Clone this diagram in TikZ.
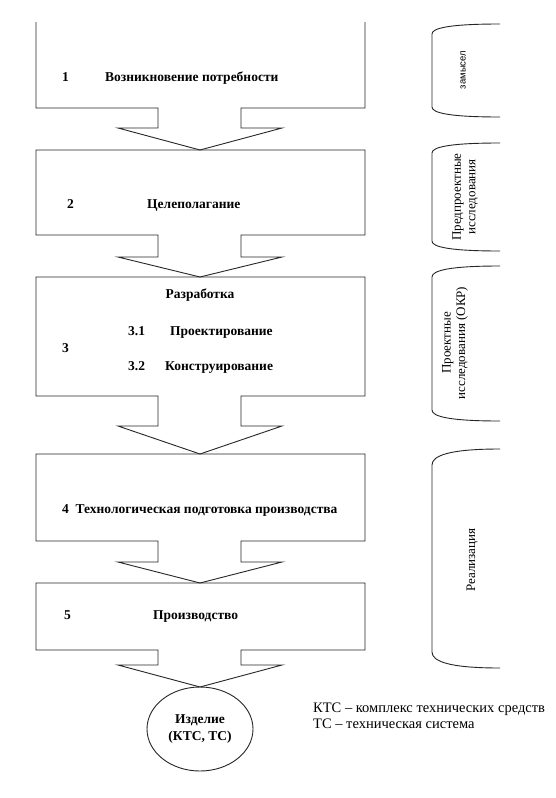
\documentclass[tikz,border=0pt]{standalone}
\usepackage{fontspec}
\setmainfont{Liberation Serif}
\newfontfamily\sansf{Liberation Sans}
\usetikzlibrary{shapes.geometric}
\begin{document}
\begin{tikzpicture}[x=1pt,y=-1pt,
  outline/.style={draw=black!85,line width=0.9pt,line join=miter},
  boxtxt/.style={font=\fontsize{13.5}{15}\selectfont\bfseries,inner sep=0pt,anchor=base west},
  sidetxt/.style={font=\fontsize{13}{14.5}\selectfont,inner sep=0pt,rotate=90,align=center},
  legendtxt/.style={font=\fontsize{14.5}{16}\selectfont,inner sep=0pt,anchor=base west}]
\useasboundingbox[fill=white] (0,0) rectangle (556,798);
% stage outlines with arrows
\newcommand\stagearrow[3]{% bottom, stem bottom, tip
  -- (36,#1) -- (158,#1) -- (158,#2) -- (118,#2) -- (200,#3) -- (282,#2) -- (241,#2) -- (241,#1) -- (365,#1)}
\draw[outline] (36,22) \stagearrow{108}{128}{150} -- (365,22);
\draw[outline] (365,150) -- (36,150) \stagearrow{235}{257}{277} -- cycle;
\draw[outline] (365,277) -- (36,277) \stagearrow{396}{426}{454} -- cycle;
\draw[outline] (365,454) -- (36,454) \stagearrow{541}{562}{583} -- cycle;
\draw[outline] (365,583) -- (36,583) \stagearrow{650}{665}{687} -- cycle;
% texts
\node[boxtxt] (n1) at (62,81) {1};
\node[boxtxt] (t1) at (105,81) {Возникновение потребности};
\node[boxtxt] (n2) at (67,208) {2};
\node[boxtxt] (t2) at (147,208) {Целеполагание};
\node[boxtxt,anchor=base] (t3) at (200,298) {Разработка};
\node[boxtxt] (n31) at (128,335) {3.1};
\node[boxtxt] (t31) at (170,335) {Проектирование};
\node[boxtxt] (n3) at (62,352) {3};
\node[boxtxt] (n32) at (128,370) {3.2};
\node[boxtxt] (t32) at (165,370) {Конструирование};
\node[boxtxt] (t4) at (62,513) {4\ \ Технологическая подготовка производства};
\node[boxtxt] (n5) at (64,619) {5};
\node[boxtxt] (t5) at (153,619) {Производство};
% product
\node[ellipse,outline,minimum width=106pt,minimum height=84pt,inner sep=0pt,align=center,
  font=\fontsize{13.5}{17}\selectfont\bfseries] (prod) at (200,729) {Изделие\\(КТС, ТС)};
\node[legendtxt] (l1) at (313,712) {КТС – комплекс технических средств};
\node[legendtxt] (l2) at (313,728) {ТС – техническая система};
% side brackets
\newcommand\sidebracket[3]{% top, bottom, curve
  \draw[outline] (500,#1) .. controls (450,#1) and (432,#1+#3*0.4) .. (432,#1+#3) -- (432,#2-#3)
     .. controls (432,#2-#3*0.4) and (450,#2) .. (500,#2);}
\sidebracket{24}{117}{10}
\sidebracket{143}{251}{10}
\sidebracket{266}{421}{11}
\sidebracket{449}{668}{16}
\node[sidetxt,font=\sansf\fontsize{9.5}{11}\selectfont] (s1) at (463,70) {замысел};
\node[sidetxt] (s2) at (465,197) {Предпроектные\\исследования};
\node[sidetxt] (s3) at (455,343) {Проектные\\исследования (ОКР)};
\node[sidetxt] (s4) at (472,560) {Реализация};
\end{tikzpicture}
\end{document}
